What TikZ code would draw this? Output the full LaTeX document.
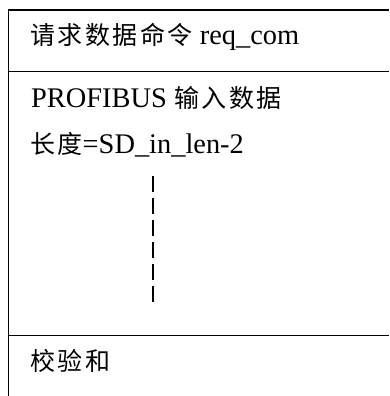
\documentclass[tikz,border=0pt]{standalone}
\usepackage{fontspec}
\setmainfont{Liberation Serif}
\newfontfamily\cjk[LetterSpace=10]{Noto Sans CJK SC}
\newcommand\zh[1]{{\cjk\fontsize{25}{28}\selectfont #1}}
\begin{document}
\begin{tikzpicture}[x=1pt,y=-1pt,
  rule/.style={line width=1.4pt},
  dashrule/.style={line width=1.4pt,dash pattern=on 15.5pt off 6.5pt},
  lbl/.style={anchor=base west,inner sep=0pt,font=\fontsize{28.4}{32}\selectfont}]
\useasboundingbox (0,0) rectangle (389,396);
\coordinate (tl) at (8.5,10);
\coordinate (tr) at (389,10);
\coordinate (bl) at (8.5,396);
\coordinate (m1l) at (8.5,71.5);
\coordinate (m1r) at (389,71.5);
\coordinate (m2l) at (8.5,335.5);
\coordinate (m2r) at (389,335.5);
\coordinate (ds) at (153,176);
\coordinate (de) at (153,302);
\draw[rule] (tr) -- (tl) -- (bl);
\draw[rule] (m1l) -- (m1r);
\draw[rule] (m2l) -- (m2r);
\draw[dashrule] (ds) -- (de);
\node[lbl] (t1) at (30,45) {\zh{请求数据命令} req\_com};
\node[lbl] (t2) at (31,107) {PROFIBUS \zh{输入数据}};
\node[lbl] (t3) at (30,153) {\zh{长度}=SD\_in\_len-2};
\node[lbl] (t4) at (30,370) {\zh{校验和}};
\end{tikzpicture}
\end{document}
